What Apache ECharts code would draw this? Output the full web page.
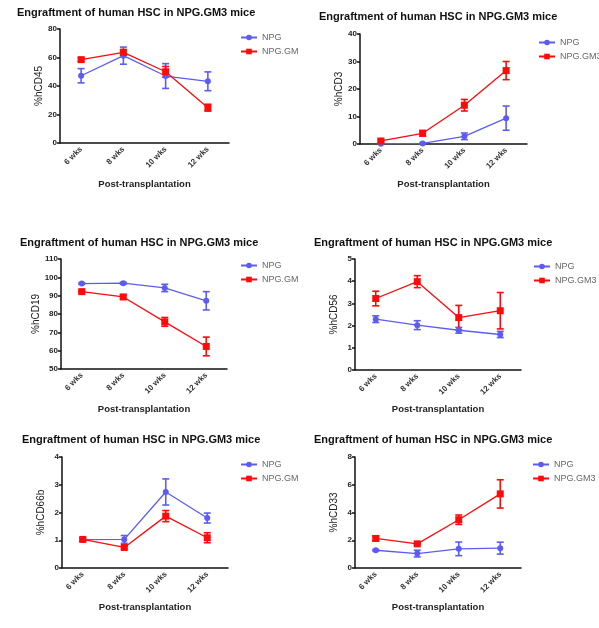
<!DOCTYPE html>
<html><head><meta charset="utf-8">
<script src="https://cdn.jsdelivr.net/npm/echarts@6/dist/echarts.min.js"></script>
<style>html,body{margin:0;padding:0;background:#fff}#c{width:599px;height:628px}</style>
</head><body><div id="c"></div>
<script>
const categories = ['6 wks', '8 wks', '10 wks', '12 wks'];
const titleText = 'Engraftment of human HSC in NPG.GM3 mice';
const xName = 'Post-transplantation';
const seriesNames = ['NPG', 'NPG.GM3'];
const yNames = ['%hCD45', '%hCD3', '%hCD19', '%hCD56', '%hCD66b', '%hCD33'];
const yMins = [0, 0, 50, 0, 0, 0];
const yMaxs = [80, 40, 110, 5, 4, 8];
const yIntervals = [20, 10, 10, 1, 1, 2];

// means and error (SEM) per panel
const npgMean = [
  [47.2, 61.3, 47.0, 43.3],
  [0.1, 0.2, 2.8, 9.4],
  [96.6, 96.8, 94.2, 87.2],
  [2.29, 2.02, 1.79, 1.60],
  [1.02, 1.03, 2.74, 1.80],
  [1.28, 1.04, 1.38, 1.43]
];
const npgErr = [
  [5.0, 6.0, 8.7, 6.6],
  [0.1, 0.15, 1.2, 4.4],
  [0.4, 0.5, 2.0, 5.0],
  [0.15, 0.20, 0.13, 0.14],
  [0.06, 0.14, 0.47, 0.18],
  [0.05, 0.24, 0.49, 0.43]
];
const gm3Mean = [
  [58.5, 63.6, 50.0, 24.8],
  [1.1, 3.9, 14.1, 26.7],
  [92.2, 89.3, 75.7, 62.3],
  [3.22, 3.98, 2.36, 2.67],
  [1.03, 0.74, 1.87, 1.09],
  [2.13, 1.74, 3.48, 5.34]
];
const gm3Err = [
  [1.3, 2.0, 3.7, 2.4],
  [0.5, 1.0, 2.1, 3.3],
  [0.5, 1.2, 2.4, 5.1],
  [0.33, 0.27, 0.55, 0.82],
  [0.05, 0.05, 0.20, 0.18],
  [0.17, 0.05, 0.34, 1.02]
];

// layout (pixels)
const grids = [
  {left: 60, top: 29, width: 169, height: 114},
  {left: 360, top: 34, width: 167, height: 110},
  {left: 61, top: 259, width: 166, height: 110},
  {left: 355, top: 259, width: 166, height: 111},
  {left: 62, top: 457, width: 166, height: 111},
  {left: 355, top: 457, width: 166, height: 111}
];
const titlePos = [[17, 7], [319, 11], [20, 237], [314, 237], [22, 434], [314, 434]];
const legendPos = [[240, 33], [538, 38], [240, 261], [533, 262], [240, 460], [532, 460]];
const xNameGap = [36, 35, 35, 34, 34, 34];

const BLUE = '#5c5cf2';
const RED = '#ff0a0a';
const FONT = 'Liberation Sans, Arial, sans-serif';

function errRender(color) {
  return function (params, api) {
    const x = api.value(0);
    const lo = api.coord([x, api.value(1)]);
    const hi = api.coord([x, api.value(2)]);
    const w = 3.5;
    const st = {stroke: color, lineWidth: 1.6};
    return {
      type: 'group',
      children: [
        {type: 'line', shape: {x1: lo[0], y1: lo[1], x2: hi[0], y2: hi[1]}, style: st},
        {type: 'line', shape: {x1: hi[0] - w, y1: hi[1], x2: hi[0] + w, y2: hi[1]}, style: st},
        {type: 'line', shape: {x1: lo[0] - w, y1: lo[1], x2: lo[0] + w, y2: lo[1]}, style: st}
      ]
    };
  };
}

const option = {
  animation: false,
  backgroundColor: '#fff',
  title: [], legend: [], grid: [], xAxis: [], yAxis: [], series: []
};

for (let p = 0; p < 6; p++) {
  option.title.push({
    text: titleText, left: titlePos[p][0], top: titlePos[p][1], padding: 0,
    textStyle: {fontFamily: FONT, fontSize: 11, fontWeight: 'bold', color: '#111'}
  });
  option.legend.push({
    left: legendPos[p][0], top: legendPos[p][1], orient: 'vertical', padding: 0,
    itemWidth: 16, itemHeight: 7, itemGap: 5,
    data: seriesNames.map(n => n + '\u200b'.repeat(p)),
    formatter: function (n) { return n.replace(/\u200b/g, ''); },
    textStyle: {fontFamily: FONT, fontSize: 9, color: '#666',
      width: p % 2 === 0 ? 300 - legendPos[p][0] - 19 : 60, overflow: 'truncate', ellipsis: ''}
  });
  option.grid.push(Object.assign({containLabel: false}, grids[p]));
  option.xAxis.push({
    type: 'category', gridIndex: p, data: categories, boundaryGap: true,
    name: xName, nameLocation: 'middle', nameGap: xNameGap[p],
    nameTextStyle: {fontFamily: FONT, fontSize: 9.5, fontWeight: 'bold', color: '#222'},
    axisLine: {lineStyle: {color: '#111', width: 1.5}},
    axisTick: {alignWithLabel: true, length: 3, lineStyle: {color: '#111', width: 1.5}},
    axisLabel: {rotate: 45, fontFamily: FONT, fontSize: 8, fontWeight: 'bold', color: '#333', margin: 5},
    splitLine: {show: false}
  });
  option.yAxis.push({
    type: 'value', gridIndex: p, min: yMins[p], max: yMaxs[p], interval: yIntervals[p],
    name: yNames[p], nameLocation: 'middle', nameGap: 16,
    nameTextStyle: {fontFamily: FONT, fontSize: 10, color: '#222'},
    axisLine: {show: true, lineStyle: {color: '#111', width: 1.5}},
    axisTick: {show: true, length: 3, lineStyle: {color: '#111', width: 1.5}},
    axisLabel: {fontFamily: FONT, fontSize: 8, fontWeight: 'bold', color: '#222', margin: 3},
    splitLine: {show: false}
  });
  const nm = seriesNames.map(n => n + '\u200b'.repeat(p));
  option.series.push({
    type: 'custom', xAxisIndex: p, yAxisIndex: p, renderItem: errRender(BLUE), z: 3,
    data: npgMean[p].map((m, i) => [i, Math.max(yMins[p], m - npgErr[p][i]), m + npgErr[p][i]])
  });
  option.series.push({
    type: 'custom', xAxisIndex: p, yAxisIndex: p, renderItem: errRender(RED), z: 3,
    data: gm3Mean[p].map((m, i) => [i, Math.max(yMins[p], m - gm3Err[p][i]), m + gm3Err[p][i]])
  });
  option.series.push({
    name: nm[0], type: 'line', xAxisIndex: p, yAxisIndex: p, data: npgMean[p],
    symbol: 'circle', symbolSize: 6, z: 4,
    lineStyle: {color: BLUE, width: 1.3}, itemStyle: {color: BLUE}
  });
  option.series.push({
    name: nm[1], type: 'line', xAxisIndex: p, yAxisIndex: p, data: gm3Mean[p],
    symbol: 'rect', symbolSize: 7, z: 5,
    lineStyle: {color: RED, width: 1.3}, itemStyle: {color: RED}
  });
}

const chart = echarts.init(document.getElementById('c'), null, {renderer: 'canvas'});
chart.setOption(option);
</script></body></html>
